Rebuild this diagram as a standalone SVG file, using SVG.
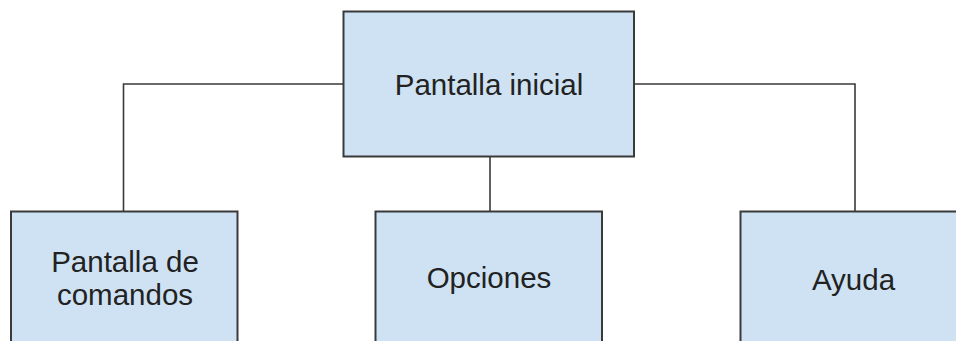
<svg xmlns="http://www.w3.org/2000/svg" width="956" height="341" viewBox="0 0 956 341">
<style>
.box{fill:#cfe2f3;stroke:#3a3a3a;stroke-width:2}
.conn{fill:none;stroke:#3a3a3a;stroke-width:1.6}
.lbl{font-family:"Liberation Sans",Arial,sans-serif;font-size:29.5px;fill:#222;text-anchor:middle}
</style>
<rect width="956" height="341" fill="#fff"/>
<g id="connectors">
<polyline class="conn" points="343.5,84 123.5,84 123.5,211.5"/>
<polyline class="conn" points="634,84 855,84 855,211.5"/>
<line class="conn" x1="490" y1="156.5" x2="490" y2="211.5"/>
</g>
<g id="pantalla-inicial">
<rect class="box" x="343.5" y="11.5" width="290.5" height="145"/>
<text class="lbl" x="489" y="95">Pantalla inicial</text>
</g>
<g id="pantalla-comandos">
<rect class="box" x="11" y="211.5" width="226.5" height="160"/>
<text class="lbl" x="125" y="272">Pantalla de</text>
<text class="lbl" x="125" y="305">comandos</text>
</g>
<g id="opciones">
<rect class="box" x="375.5" y="211.5" width="226.5" height="160"/>
<text class="lbl" x="489" y="288">Opciones</text>
</g>
<g id="ayuda">
<rect class="box" x="740.5" y="211.5" width="226.5" height="160"/>
<text class="lbl" x="853.5" y="290">Ayuda</text>
</g>
</svg>
